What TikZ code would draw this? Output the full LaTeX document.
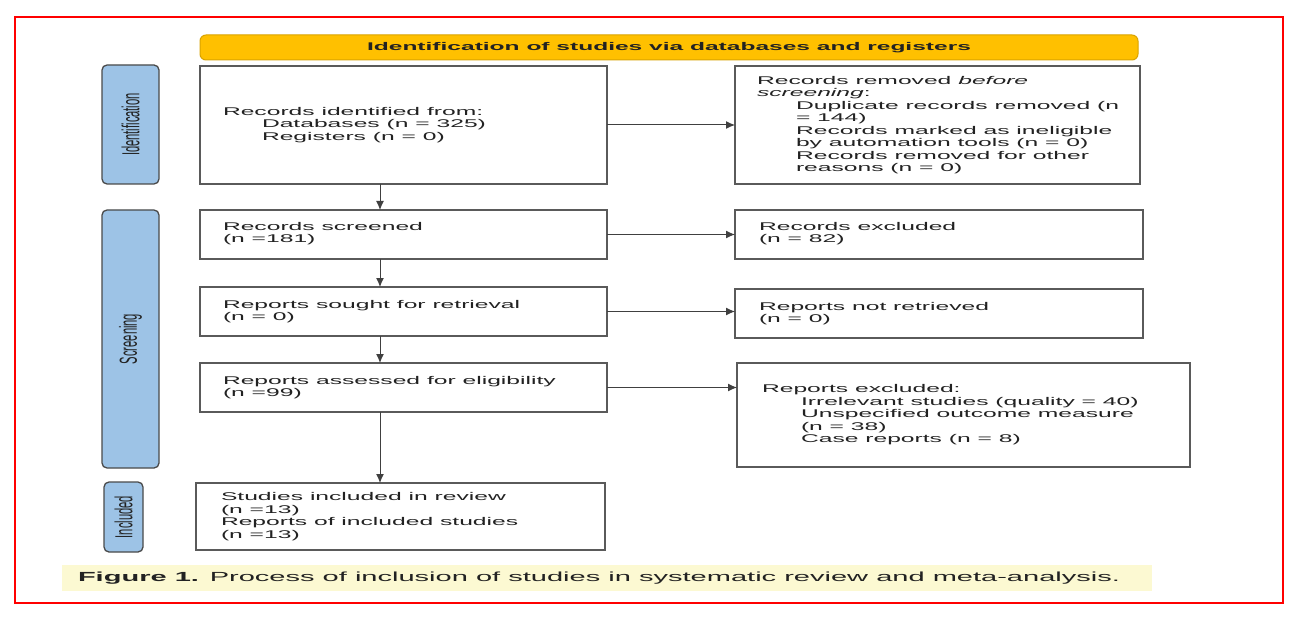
\documentclass[tikz,border=0pt]{standalone}
\usepackage{fontspec}
\setmainfont{Liberation Sans}[FakeStretch=2.2]
\newfontfamily\sidefont{Liberation Sans}
\usetikzlibrary{arrows.meta}
\definecolor{bord}{HTML}{5A5A5A}
\definecolor{arrc}{HTML}{404040}
\definecolor{txt}{HTML}{222222}
\definecolor{sideblue}{HTML}{9DC3E6}
\definecolor{sidebord}{HTML}{4A4A4A}
\definecolor{gold}{HTML}{FFC000}
\definecolor{goldbord}{HTML}{D9A300}
\definecolor{capbg}{HTML}{FCF9D2}
\newcommand{\ind}{\hspace*{39pt}}
\newcommand{\sidelab}[1]{\rotatebox{90}{\scalebox{1}[2.2]{\sidefont\fontsize{11.2}{12}\selectfont #1}}}
\begin{document}
\begin{tikzpicture}[x=1pt,y=-1pt,
  every node/.style={text=txt, font=\fontsize{11.2}{12.5}\selectfont, inner sep=0pt, outer sep=0pt},
  flowbox/.style={draw=bord, line width=1.5pt, fill=white, anchor=north west},
  sidebox/.style={draw=sidebord, line width=1.3pt, fill=sideblue, rounded corners=5pt, anchor=north west},
  lbl/.style={anchor=west, align=left},
  arr/.style={draw=arrc, line width=1pt, -{Latex[length=9pt,width=8pt]}}]
\useasboundingbox[fill=white] (0,0) rectangle (1300,620);
\draw[red, line width=1.5pt] (15,17) rectangle (1283,603);

% header
\node[draw=goldbord, line width=1pt, fill=gold, rounded corners=6pt, anchor=north west,
      minimum width=938pt, minimum height=25pt] (hdr) at (200,35) {};
\node[font=\fontsize{11.15}{12}\selectfont\bfseries] (hdrt) at (hdr.center) {Identification of studies via databases and registers};

% side labels
\node[sidebox, minimum width=57pt, minimum height=119pt] (ids) at (102,65) {};
\node (idst) at (ids.center) {\sidelab{Identification}};
\node[sidebox, minimum width=57pt, minimum height=258pt] (scs) at (102,210) {};
\node (scst) at (scs.center) {\sidelab{Screening}};
\node[sidebox, minimum width=39pt, minimum height=70pt] (ins) at (104,482) {};
\node (inst) at (ins.center) {\sidelab{Included}};

% left column
\node[flowbox, minimum width=407pt, minimum height=118pt] (rid) at (200,66) {};
\node[lbl] (ridt) at ([xshift=23pt]rid.west) {Records identified from:\\\ind Databases (n = 325)\\\ind Registers (n = 0)};
\node[flowbox, minimum width=407pt, minimum height=49pt] (scr) at (200,210) {};
\node[lbl] (scrt) at ([xshift=23pt,yshift=1pt]scr.west) {Records screened\\(n =181)};
\node[flowbox, minimum width=407pt, minimum height=49pt] (sou) at (200,287) {};
\node[lbl] (sout) at ([xshift=23pt]sou.west) {Reports sought for retrieval\\(n = 0)};
\node[flowbox, minimum width=407pt, minimum height=49pt] (ass) at (200,363) {};
\node[lbl] (asst) at ([xshift=23pt]ass.west) {Reports assessed for eligibility\\(n =99)};
\node[flowbox, minimum width=409pt, minimum height=67pt] (inc) at (196,483) {};
\node[lbl] (inct) at ([xshift=25pt]inc.west) {Studies included in review\\(n =13)\\Reports of included studies\\(n =13)};

% right column
\node[flowbox, minimum width=405pt, minimum height=118pt] (rbs) at (735,66) {};
\node[lbl] (rbst) at ([xshift=22pt]rbs.west) {Records removed \emph{before}\\\emph{screening}:\\\ind Duplicate records removed (n\\\ind = 144)\\\ind Records marked as ineligible\\\ind by automation tools (n = 0)\\\ind Records removed for other\\\ind reasons (n = 0)};
\node[flowbox, minimum width=408pt, minimum height=49pt] (rex) at (735,210) {};
\node[lbl] (rext) at ([xshift=24pt,yshift=1pt]rex.west) {Records excluded\\(n = 82)};
\node[flowbox, minimum width=408pt, minimum height=49pt] (nrt) at (735,289) {};
\node[lbl] (nrtt) at ([xshift=24pt]nrt.west) {Reports not retrieved\\(n = 0)};
\node[flowbox, minimum width=453pt, minimum height=104pt] (rpx) at (737,363) {};
\node[lbl] (rpxt) at ([xshift=25pt]rpx.west) {Reports excluded:\\\ind Irrelevant studies (quality = 40)\\\ind Unspecified outcome measure\\\ind (n = 38)\\\ind Case reports (n = 8)};

% arrows
\coordinate (ax) at (380,0);
\draw[arr] (rid.south -| ax) -- (scr.north -| ax);
\draw[arr] (scr.south -| ax) -- (sou.north -| ax);
\draw[arr] (sou.south -| ax) -- (ass.north -| ax);
\draw[arr] (ass.south -| ax) -- (inc.north -| ax);
\draw[arr] (rid.east) -- (rid.east -| rbs.west);
\draw[arr] (scr.east) -- (scr.east -| rex.west);
\draw[arr] (sou.east) -- (sou.east -| nrt.west);
\draw[arr] (ass.east) -- (ass.east -| rpx.west);

% caption
\node[fill=capbg, anchor=north west, minimum width=1090pt, minimum height=26pt] (capb) at (62,565) {};
\node[anchor=west, font=\fontsize{13.2}{14}\selectfont] (capt) at ([xshift=16pt]capb.west) {\textbf{Figure 1.} Process of inclusion of studies in systematic review and meta-analysis.};
\end{tikzpicture}
\end{document}
